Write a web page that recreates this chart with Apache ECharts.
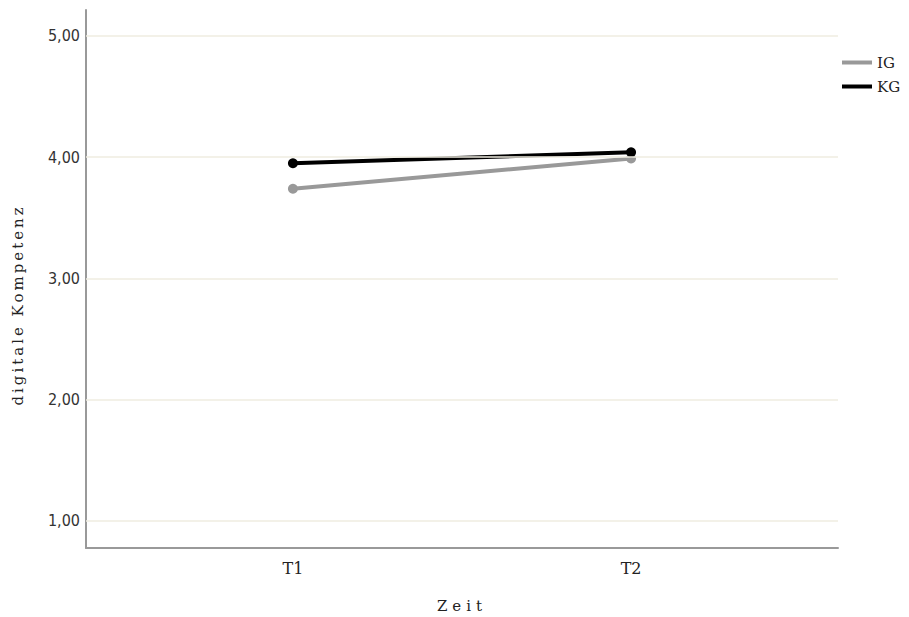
<!DOCTYPE html>
<html><head><meta charset="utf-8">
<script src="https://cdn.jsdelivr.net/npm/echarts@6/dist/echarts.min.js"></script>
<style>html,body{margin:0;padding:0;background:#fff}#c{width:909px;height:617px}</style>
</head><body><div id="c"></div>
<script>
const categories = ['T1', 'T2'];
const seriesNames = ['IG', 'KG'];
const igValues = [3.74, 3.99];
const kgValues = [3.95, 4.04];
const yTicks = [1, 2, 3, 4, 5];
const xTitle = 'Zeit';
const yTitle = 'digitale Kompetenz';

const chart = echarts.init(document.getElementById('c'), null, { renderer: 'svg' });
const toPts = vals => vals.map((v, i) => [i, v]);
const serif = '"DejaVu Serif", "Liberation Serif", serif';
const sans = '"DejaVu Sans Condensed", "DejaVu Sans", sans-serif';

chart.setOption({
  animation: false,
  backgroundColor: '#fff',
  grid: { left: 86, top: 10, right: 71, bottom: 69, containLabel: false, outerBoundsMode: 'none' },
  legend: {
    orient: 'vertical', left: 842, top: 55, itemGap: 9, padding: 0,
    itemWidth: 30, itemHeight: 4,
    textStyle: { fontFamily: serif, fontSize: 15, color: '#222' },
    data: [{ name: 'IG', icon: 'rect' }, { name: 'KG', icon: 'rect' }]
  },
  graphic: [
    { type: 'text', id: 'xt', x: 462, y: 606,
      style: { text: xTitle, font: '15px ' + serif, fill: '#222', textAlign: 'center', textVerticalAlign: 'middle' } },
    { type: 'text', id: 'yt', x: 18, y: 305, rotation: Math.PI / 2,
      style: { text: yTitle, font: '15px ' + serif, fill: '#222', textAlign: 'center', textVerticalAlign: 'middle' } }
  ],
  xAxis: {
    type: 'value', min: -0.612, max: 1.612,
    axisLine: { show: true, onZero: false, lineStyle: { color: '#999', width: 2 } },
    axisTick: { show: false },
    splitLine: { show: false },
    axisLabel: {
      customValues: categories.map((c, i) => i),
      formatter: v => categories[Math.round(v)] || '',
      fontFamily: serif, fontSize: 16, color: '#222', margin: 12
    }
  },
  yAxis: {
    type: 'value', min: 0.777, max: 5.214,
    axisLine: { show: true, onZero: false, lineStyle: { color: '#999', width: 2 } },
    axisTick: { show: false },
    splitLine: { show: false },
    axisLabel: {
      customValues: yTicks,
      formatter: v => v.toFixed(2).replace('.', ','),
      fontFamily: sans, fontSize: 16, color: '#333', margin: 6
    }
  },
  series: [
    {
      name: 'grid', type: 'line', data: [], silent: true,
      markLine: {
        silent: true, symbol: 'none', label: { show: false },
        lineStyle: { color: '#efece0', type: 'solid', width: 1.5 },
        data: yTicks.map(t => ({ yAxis: t }))
      }
    },
    {
      name: seriesNames[0], type: 'line', data: toPts(igValues),
      symbol: 'circle', symbolSize: 10,
      lineStyle: { color: '#999999', width: 4 },
      itemStyle: { color: '#999999' }
    },
    {
      name: seriesNames[1], type: 'line', data: toPts(kgValues),
      symbol: 'circle', symbolSize: 10,
      lineStyle: { color: '#000000', width: 4 },
      itemStyle: { color: '#000000' }
    }
  ]
});

// letter spacing for axis titles (SVG renderer)
document.querySelectorAll('#c svg text').forEach(t => {
  if (t.textContent === xTitle) t.style.letterSpacing = '5px';
  if (t.textContent === yTitle) t.style.letterSpacing = '3px';
});
</script></body></html>
